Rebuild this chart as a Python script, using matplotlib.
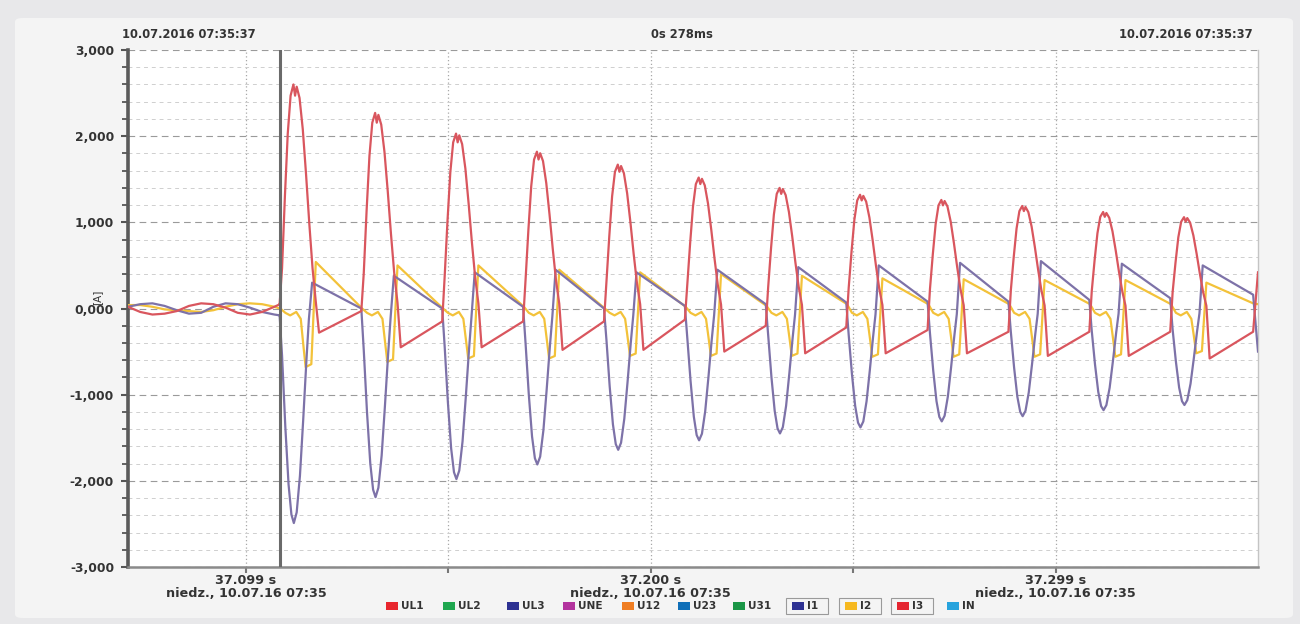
import matplotlib
matplotlib.use("Agg")
import matplotlib.pyplot as plt
from matplotlib.patches import Rectangle, FancyBboxPatch
from matplotlib.ticker import MultipleLocator, FixedLocator

# time axis in ms from the start of the record window (0 .. 278 ms)
t_end = 278.0
t_switch = 37.4

# low currents before switching on
pre_t = [0, 3, 6, 9, 12, 15, 18, 21, 24, 27, 30, 33, 36, 37.4]
pre_i1 = [0.02, 0.05, 0.06, 0.03, -0.02, -0.06, -0.05, 0.02, 0.06, 0.05, 0.01, -0.04, -0.07, -0.08]
pre_i2 = [0.04, 0.04, 0.02, -0.01, -0.02, -0.03, -0.04, -0.02, 0.02, 0.05, 0.06, 0.05, 0.02, 0.00]
pre_i3 = [0.02, -0.04, -0.07, -0.06, -0.03, 0.03, 0.06, 0.05, 0.01, -0.05, -0.07, -0.04, 0.02, 0.05]

# inrush cycles: time of each I3 peak and the levels of the three currents
peak_t = [41.1, 61.2, 81.1, 101.0, 120.9, 140.8, 160.7, 180.5, 200.5, 220.4, 240.3, 260.2]
i3_peak = [2.60, 2.27, 2.03, 1.82, 1.67, 1.52, 1.40, 1.32, 1.26, 1.19, 1.12, 1.06]
i3_base = [0.05, -0.03, -0.15, -0.15, -0.15, -0.13, -0.20, -0.22, -0.25, -0.27, -0.27, -0.27]
i3_valley = [-0.28, -0.45, -0.45, -0.48, -0.48, -0.50, -0.52, -0.52, -0.52, -0.55, -0.55, -0.58]
i1_trough = [-2.49, -2.19, -1.98, -1.81, -1.64, -1.53, -1.45, -1.38, -1.31, -1.25, -1.18, -1.12]
i1_base = [-0.08, 0.00, 0.00, 0.02, 0.00, 0.03, 0.05, 0.07, 0.08, 0.08, 0.10, 0.12]
i1_after = [0.30, 0.38, 0.42, 0.45, 0.42, 0.45, 0.48, 0.50, 0.53, 0.55, 0.52, 0.50]
i2_base = [0.00, 0.00, 0.00, 0.02, 0.00, 0.02, 0.03, 0.05, 0.05, 0.05, 0.05, 0.05]
i2_dip = [-0.68, -0.62, -0.58, -0.58, -0.55, -0.55, -0.55, -0.56, -0.56, -0.56, -0.56, -0.52]
i2_jump = [0.54, 0.50, 0.50, 0.45, 0.42, 0.40, 0.38, 0.35, 0.34, 0.33, 0.33, 0.30]

# values at the right edge of the window
tail_t = [276.8, 278.0]
tail_i1 = [0.16, -0.50]
tail_i2 = [0.06, 0.05]
tail_i3 = [-0.27, 0.42]

y_ticks = [-3, -2, -1, 0, 1, 2, 3]
x_ticks = [29.0, 78.8, 128.6, 178.4, 228.2]
x_labels = ["37.099 s\nniedz., 10.07.16 07:35", "",
            "37.200 s\nniedz., 10.07.16 07:35", "",
            "37.299 s\nniedz., 10.07.16 07:35"]

legend_names = ["UL1", "UL2", "UL3", "UNE", "U12", "U23", "U31", "I1", "I2", "I3", "IN"]
legend_colors = ["#e8262d", "#1fa74f", "#2d3192", "#b3339e", "#ef7d22", "#0f6fb8",
                 "#1a9646", "#2d3192", "#f6b81f", "#e42530", "#27a3dd"]
legend_boxed = ["I1", "I2", "I3"]

# pulse shapes inside one cycle: offsets in ms from the I3 peak
off_i3 = [-3.2, -2.5, -1.8, -1.1, -0.4, 0.0, 0.4, 1.1, 1.9, 2.7, 3.5, 4.3, 5.1]
frac_i3 = [0.18, 0.50, 0.78, 0.95, 1.00, 0.95, 0.99, 0.94, 0.80, 0.60, 0.38, 0.18, 0.03]
off_i1 = [-3.2, -2.4, -1.6, -0.9, -0.3, 0.4, 1.2, 2.0, 2.8, 3.4]
frac_i1 = [0.22, 0.55, 0.82, 0.96, 1.00, 0.95, 0.78, 0.52, 0.24, 0.05]

t3, v3 = list(pre_t), list(pre_i3)
t1, v1 = list(pre_t), list(pre_i1)
t2, v2 = list(pre_t), list(pre_i2)
for k, tp in enumerate(peak_t):
    # I3: positive pulse, then the slowly rising negative part
    t3.append(tp - 3.8); v3.append(i3_base[k])
    for o, f in zip(off_i3, frac_i3):
        t3.append(tp + o); v3.append(f * i3_peak[k])
    t3.append(tp + 5.9); v3.append(i3_valley[k])
    # I1: negative pulse, then the decaying positive part
    t1.append(tp - 3.8); v1.append(i1_base[k])
    for o, f in zip(off_i1, frac_i1):
        t1.append(tp + o); v1.append(f * i1_trough[k])
    t1.append(tp + 4.2); v1.append(i1_after[k])
    # I2: small negative dip, then jump and decay
    t2 += [tp - 3.6, tp - 2.4, tp - 1.2, tp + 0.3, tp + 1.4, tp + 2.0, tp + 2.6, tp + 4.0, tp + 5.1]
    v2 += [i2_base[k], -0.05, -0.08, -0.04, -0.12, 0.6 * i2_dip[k], i2_dip[k],
           0.95 * i2_dip[k], i2_jump[k]]
t3 += tail_t; v3 += tail_i3
t1 += tail_t; v1 += tail_i1
t2 += tail_t; v2 += tail_i2

W, H = 1300, 624
fig = plt.figure(figsize=(W / 100, H / 100), dpi=100)
fig.patch.set_facecolor("#e8e8ea")
fig.patches.append(FancyBboxPatch((15 / W, 6 / H), 1278 / W, 600 / H,
                                  boxstyle="round,pad=0,rounding_size=0.006",
                                  transform=fig.transFigure, facecolor="#f4f4f4",
                                  edgecolor="none", zorder=-5))

ax = fig.add_axes([128 / W, 1 - 567 / H, 1130 / W, 517 / H])
ax.set_facecolor("white")
ax.plot(t2, v2, color="#f3c23a", lw=1.6, zorder=3)
ax.plot(t1, v1, color="#7d72a8", lw=1.6, zorder=4)
ax.plot(t3, v3, color="#d9565e", lw=1.6, zorder=5)
ax.axvline(t_switch, color="#6a6a6a", lw=2.2, zorder=6)

ax.set_xlim(0, t_end)
ax.set_ylim(-3, 3)
ax.yaxis.set_major_locator(FixedLocator(y_ticks))
ax.yaxis.set_minor_locator(MultipleLocator(0.2))
ax.set_yticklabels([f"{v:,.3f}".replace(".", ",") for v in y_ticks])
ax.xaxis.set_major_locator(FixedLocator(x_ticks))
ax.set_xticklabels(x_labels, linespacing=1.05)

ax.grid(which="major", axis="y", ls=(0, (6, 4)), color="#9a9a9a", lw=0.8)
ax.grid(which="minor", axis="y", ls=(0, (4, 4)), color="#cfcfcf", lw=0.7)
ax.grid(which="major", axis="x", ls=(0, (1, 2)), color="#a8a8a8", lw=0.9)

ax.tick_params(axis="y", which="major", length=5, width=1.5, color="#555555",
               labelsize=8.8, labelcolor="#333333", pad=5)
ax.tick_params(axis="y", which="minor", length=4, width=1.3, color="#555555")
ax.tick_params(axis="x", which="major", length=4, width=1.5, color="#777777",
               labelsize=9.2, labelcolor="#333333", pad=1)
for lab in ax.get_yticklabels() + ax.get_xticklabels():
    lab.set_fontweight("bold")

ax.spines["left"].set_color("#5a5a5a")
ax.spines["left"].set_linewidth(2.6)
ax.spines["bottom"].set_color("#8a8a8a")
ax.spines["bottom"].set_linewidth(1.8)
ax.spines["right"].set_color("#c4c4c4")
ax.spines["right"].set_linewidth(1.0)
ax.spines["top"].set_visible(False)

fig.text(97 / W, 1 - 297 / H, "[A]", rotation=90, ha="center", va="center",
         fontsize=7.5, color="#333333")

top = dict(fontsize=8.3, color="#333333", fontweight="bold", va="center")
fig.text(122 / W, 1 - 35 / H, "10.07.2016 07:35:37", ha="left", **top)
fig.text(682 / W, 1 - 35 / H, "0s 278ms", ha="center", **top)
fig.text(1253 / W, 1 - 35 / H, "10.07.2016 07:35:37", ha="right", **top)

# legend row below the time labels
leg = dict(fontsize=7.6, color="#333333", fontweight="bold", va="center")
lx = [386, 443, 507, 563, 622, 678, 733, 792, 845, 897, 947]
for x, name, col in zip(lx, legend_names, legend_colors):
    if name in legend_boxed:
        fig.patches.append(Rectangle(((x - 6) / W, 1 - 614 / H), 42 / W, 16 / H,
                                     transform=fig.transFigure, facecolor="none",
                                     edgecolor="#9a9a9a", lw=0.8))
    fig.patches.append(Rectangle((x / W, 1 - 610 / H), 12 / W, 8 / H,
                                 transform=fig.transFigure, facecolor=col,
                                 edgecolor="none"))
    fig.text((x + 15) / W, 1 - 606 / H, name, ha="left", **leg)

fig.savefig("out.png", dpi=100)
